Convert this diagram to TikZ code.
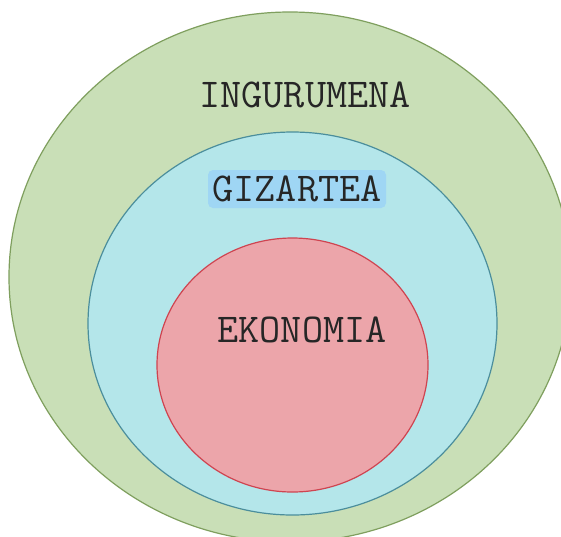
\documentclass[tikz,border=0pt]{standalone}
\usetikzlibrary{shapes.geometric}

\definecolor{greenfill}{HTML}{C9DFB7}
\definecolor{greenline}{HTML}{7F9F5E}
\definecolor{bluefill}{HTML}{B4E6EA}
\definecolor{blueline}{HTML}{4B8E9C}
\definecolor{redfill}{HTML}{ECA5AA}
\definecolor{redline}{HTML}{CF4450}
\definecolor{tagfill}{HTML}{9FD6F4}

\begin{document}
\begin{tikzpicture}[x=1pt, y=-1pt,
    ring/.style={ellipse, draw, line width=1.2pt, inner sep=0pt},
    label/.style={font=\ttfamily\fontsize{41}{41}\selectfont, text=black!85}]
  \useasboundingbox (0,0) rectangle (561,536);
  \fill[white] (0,0) rectangle (561,536);
  % the three nested rings
  \node (ingurumena) [ring, fill=greenfill, draw=greenline,
                      minimum width=562pt, minimum height=530pt] at (290,277) {};
  \node (gizartea) [ring, fill=bluefill, draw=blueline,
                    minimum width=409pt, minimum height=383pt] at (292.5,323.5) {};
  \node (ekonomia) [ring, fill=redfill, draw=redline,
                    minimum width=271pt, minimum height=254pt] at (292.5,365) {};
  % labels
  \node (ingtext) [label] at (305,95) {INGURUMENA};
  \node (giztext) [label, fill=tagfill, rounded corners=5pt,
                   minimum width=178pt, minimum height=38pt, inner sep=2pt]
    at (297,189) {GIZARTEA};
  \node (ekotext) [label] at (302,330) {EKONOMIA};
\end{tikzpicture}
\end{document}
